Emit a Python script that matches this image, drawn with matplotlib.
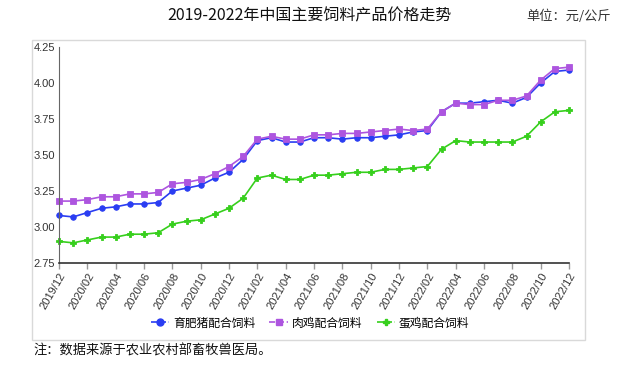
import matplotlib
matplotlib.use("Agg")
import matplotlib.pyplot as plt
from matplotlib.patches import Rectangle
from matplotlib.lines import Line2D

plt.rcParams['font.family'] = ['Noto Sans CJK SC', 'DejaVu Sans']

months = ["2019/12", "2020/01", "2020/02", "2020/03", "2020/04", "2020/05", "2020/06",
          "2020/07", "2020/08", "2020/09", "2020/10", "2020/11", "2020/12",
          "2021/01", "2021/02", "2021/03", "2021/04", "2021/05", "2021/06",
          "2021/07", "2021/08", "2021/09", "2021/10", "2021/11", "2021/12",
          "2022/01", "2022/02", "2022/03", "2022/04", "2022/05", "2022/06",
          "2022/07", "2022/08", "2022/09", "2022/10", "2022/11", "2022/12"]

pig = [3.08, 3.07, 3.10, 3.13, 3.14, 3.16, 3.16, 3.17, 3.25, 3.27, 3.29, 3.34, 3.38,
       3.47, 3.60, 3.62, 3.59, 3.59, 3.62, 3.62, 3.61, 3.62, 3.62, 3.63, 3.64,
       3.66, 3.67, 3.80, 3.86, 3.86, 3.87, 3.88, 3.86, 3.90, 4.00, 4.08, 4.09]
broiler = [3.18, 3.18, 3.19, 3.21, 3.21, 3.23, 3.23, 3.24, 3.30, 3.31, 3.33, 3.37, 3.42,
           3.49, 3.61, 3.63, 3.61, 3.61, 3.64, 3.64, 3.65, 3.65, 3.66, 3.67, 3.68,
           3.67, 3.68, 3.80, 3.86, 3.85, 3.85, 3.88, 3.88, 3.91, 4.02, 4.10, 4.11]
layer = [2.90, 2.89, 2.91, 2.93, 2.93, 2.95, 2.95, 2.96, 3.02, 3.04, 3.05, 3.09, 3.13,
         3.20, 3.34, 3.36, 3.33, 3.33, 3.36, 3.36, 3.37, 3.38, 3.38, 3.40, 3.40,
         3.41, 3.42, 3.54, 3.60, 3.59, 3.59, 3.59, 3.59, 3.63, 3.73, 3.80, 3.81]

series_names = ["育肥猪配合饲料", "肉鸡配合饲料", "蛋鸡配合饲料"]
y_ticks = [2.75, 3.00, 3.25, 3.50, 3.75, 4.00, 4.25]

colors = ["#2a3df2", "#ad55df", "#36cf1c"]
markers = ["o", "s", "P"]
msizes = [4.0, 4.0, 4.0]

fig = plt.figure(figsize=(6.2, 3.68), dpi=100)
fig.patch.set_facecolor("white")

# outer frame
fig.patches.append(Rectangle((32 / 620, 1 - 340 / 368), (585 - 32) / 620, (340 - 40) / 368,
                             transform=fig.transFigure, fill=False,
                             edgecolor="#d9d9d9", linewidth=1.0))

ax = fig.add_axes([59 / 620, 1 - 263 / 368, (569 - 59) / 620, (263 - 47) / 368])
x = list(range(len(months)))
for data, c, m, ms in zip([pig, broiler, layer], colors, markers, msizes):
    ax.plot(x, data, color=c, marker=m, markersize=ms, linewidth=1.2,
            markeredgewidth=0.6, clip_on=False)

ax.set_xlim(0, len(months) - 1)
ax.set_ylim(2.75, 4.25)
ax.set_yticks(y_ticks)
ax.set_yticklabels([f"{v:.2f}" for v in y_ticks], fontsize=8,
                   family=["Liberation Sans", "DejaVu Sans"], color="#333333")
ax.tick_params(axis="y", length=0, pad=3)
ax.set_xticks(x[::2])
ax.set_xticklabels(months[::2], rotation=60, fontsize=8, ha="right",
                   rotation_mode="anchor", family=["Liberation Sans", "DejaVu Sans"],
                   color="#333333")
ax.tick_params(axis="x", length=4, color="#999999", width=1, pad=2)

for s in ["top", "right"]:
    ax.spines[s].set_visible(False)
ax.spines["left"].set_color("#666666")
ax.spines["bottom"].set_color("#333333")
ax.spines["bottom"].set_linewidth(1.2)

# legend
handles = [Line2D([0], [0], color=c, marker=m, markersize=5, linestyle="--",
                  linewidth=1.2) for c, m in zip(colors, markers)]
fig.legend(handles, series_names, loc="center", bbox_to_anchor=(310 / 620, 1 - 323 / 368),
           ncol=3, frameon=False, fontsize=8.5, handlelength=1.6, columnspacing=1.2,
           handletextpad=0.3)

fig.text(310 / 620, 1 - 16 / 368, "2019-2022年中国主要饲料产品价格走势", ha="center",
         va="center", fontsize=11.5, color="#111111")
fig.text(611 / 620, 1 - 16 / 368, "单位：元/公斤", ha="right", va="center",
         fontsize=9.5, color="#333333")
fig.text(33 / 620, 1 - 351 / 368, "注：数据来源于农业农村部畜牧兽医局。", ha="left",
         va="center", fontsize=9.5, color="#111111")

fig.savefig("out.png", dpi=100)
